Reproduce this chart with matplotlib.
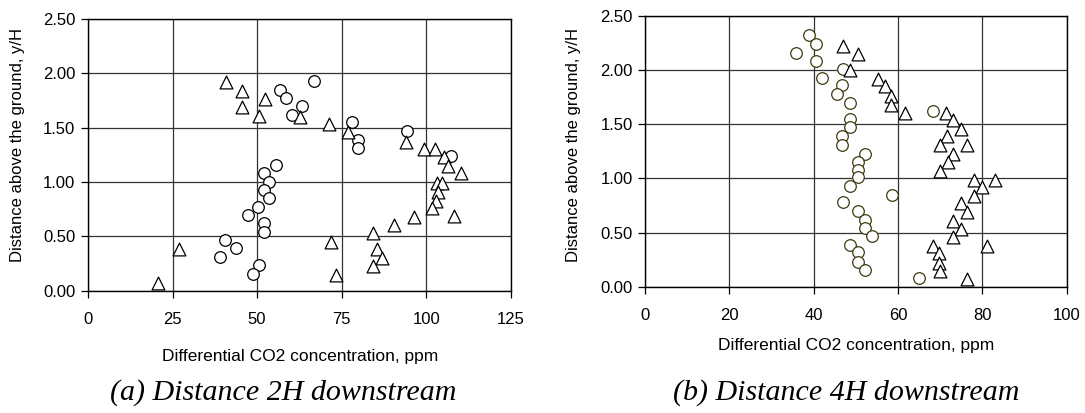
import matplotlib
matplotlib.use('Agg')
import matplotlib.pyplot as plt

plt.rcParams['font.family'] = ['Liberation Sans', 'DejaVu Sans']

# (a) 2H downstream
a_circ_x = [66.7, 56.9, 58.6, 63.2, 60.3, 78.2, 79.8, 79.8, 94.3, 107.3,
            55.5, 52.1, 53.6, 52.1, 53.6, 50.4, 47.2, 52.1, 52.1, 40.5,
            43.9, 39.1, 50.6, 48.7]
a_circ_y = [1.93, 1.85, 1.77, 1.70, 1.62, 1.55, 1.39, 1.31, 1.47, 1.24,
            1.16, 1.08, 1.00, 0.93, 0.85, 0.77, 0.70, 0.62, 0.54, 0.47,
            0.39, 0.31, 0.24, 0.15]
a_tri_x = [40.7, 45.6, 45.6, 52.3, 50.5, 62.6, 71.4, 77.0, 93.9, 99.5,
           102.6, 105.4, 106.6, 110.4, 103.3, 104.8, 103.6, 102.9, 101.7, 108.3,
           96.5, 90.4, 84.4, 72.0, 85.5, 86.8, 84.4, 73.2, 26.8, 20.8]
a_tri_y = [1.92, 1.84, 1.69, 1.76, 1.61, 1.60, 1.53, 1.46, 1.37, 1.30,
           1.30, 1.23, 1.15, 1.08, 0.99, 0.99, 0.91, 0.83, 0.76, 0.69,
           0.68, 0.60, 0.53, 0.45, 0.38, 0.30, 0.23, 0.14, 0.38, 0.07]

# (b) 4H downstream
b_circ_x = [35.7, 38.8, 40.6, 40.6, 42.0, 47.0, 46.8, 45.5, 48.6, 48.6,
            48.6, 46.8, 46.8, 52.1, 50.4, 50.4, 50.4, 48.6, 58.6, 47.0,
            50.4, 52.1, 52.1, 53.7, 48.6, 50.4, 50.4, 52.1, 64.9, 68.2]
b_circ_y = [2.16, 2.32, 2.24, 2.08, 1.93, 2.01, 1.86, 1.78, 1.70, 1.55,
            1.47, 1.39, 1.31, 1.23, 1.15, 1.08, 1.01, 0.93, 0.85, 0.78,
            0.70, 0.62, 0.54, 0.47, 0.39, 0.32, 0.23, 0.16, 0.08, 1.62]
b_tri_x = [46.9, 50.4, 48.6, 55.3, 57.0, 58.3, 58.3, 61.7, 71.4, 73.1,
           74.9, 71.6, 70.0, 76.3, 73.1, 71.9, 70.0, 77.9, 82.9, 79.9,
           77.9, 74.9, 76.3, 73.1, 74.9, 73.1, 68.2, 81.2, 69.8, 69.8,
           70.0, 76.4]
b_tri_y = [2.22, 2.15, 2.00, 1.92, 1.85, 1.76, 1.68, 1.60, 1.60, 1.54,
           1.46, 1.39, 1.31, 1.31, 1.23, 1.15, 1.07, 0.99, 0.99, 0.92,
           0.84, 0.77, 0.69, 0.61, 0.53, 0.46, 0.38, 0.38, 0.31, 0.22,
           0.15, 0.07]

yticks = [0, 0.5, 1.0, 1.5, 2.0, 2.5]
ytick_labels = ['0.00', '0.50', '1.00', '1.50', '2.00', '2.50']

fig = plt.figure(figsize=(10.85, 4.13), dpi=100)
ax1 = fig.add_axes([0.0811, 0.2961, 0.3896, 0.6579])
ax2 = fig.add_axes([0.5945, 0.3051, 0.3887, 0.6569])

ax1.scatter(a_circ_x, a_circ_y, s=70, marker='o', facecolors='white',
            edgecolors='black', linewidths=0.9, zorder=3)
ax1.scatter(a_tri_x, a_tri_y, s=85, marker='^', facecolors='white',
            edgecolors='black', linewidths=0.9, zorder=3)
ax2.scatter(b_circ_x, b_circ_y, s=70, marker='o', facecolors='white',
            edgecolors='#3d3a10', linewidths=0.9, zorder=3)
ax2.scatter(b_tri_x, b_tri_y, s=85, marker='^', facecolors='white',
            edgecolors='black', linewidths=0.9, zorder=3)

ax1.set_xlim(0, 125)
ax1.set_xticks([0, 25, 50, 75, 100, 125])
ax2.set_xlim(0, 100)
ax2.set_xticks([0, 20, 40, 60, 80, 100])

for ax in (ax1, ax2):
    ax.set_ylim(0, 2.5)
    ax.set_yticks(yticks)
    ax.set_yticklabels(ytick_labels)
    ax.grid(True, color='#333333', linewidth=0.9)
    ax.set_axisbelow(True)
    for sp in ax.spines.values():
        sp.set_color('black')
        sp.set_linewidth(1.0)
    ax.tick_params(direction='out', length=5, width=0.9, labelsize=12)
    ax.tick_params(axis='x', pad=10)
    ax.tick_params(axis='y', pad=4)
    ax.set_xlabel('Differential CO2 concentration, ppm', fontsize=12.5)
    ax.set_ylabel('Distance above the ground, y/H', fontsize=12)

ax1.xaxis.set_label_coords(0.503, -0.2146)
ax1.yaxis.set_label_coords(-0.149, 0.538)
ax2.xaxis.set_label_coords(0.50, -0.188)
ax2.yaxis.set_label_coords(-0.152, 0.523)

fig.text(0.261, 0.05, '(a) Distance 2H downstream', ha='center', va='center',
         fontsize=21.6, style='italic', family='Liberation Serif')
fig.text(0.780, 0.05, '(b) Distance 4H downstream', ha='center', va='center',
         fontsize=21.6, style='italic', family='Liberation Serif')

fig.savefig('out.png', dpi=100)
